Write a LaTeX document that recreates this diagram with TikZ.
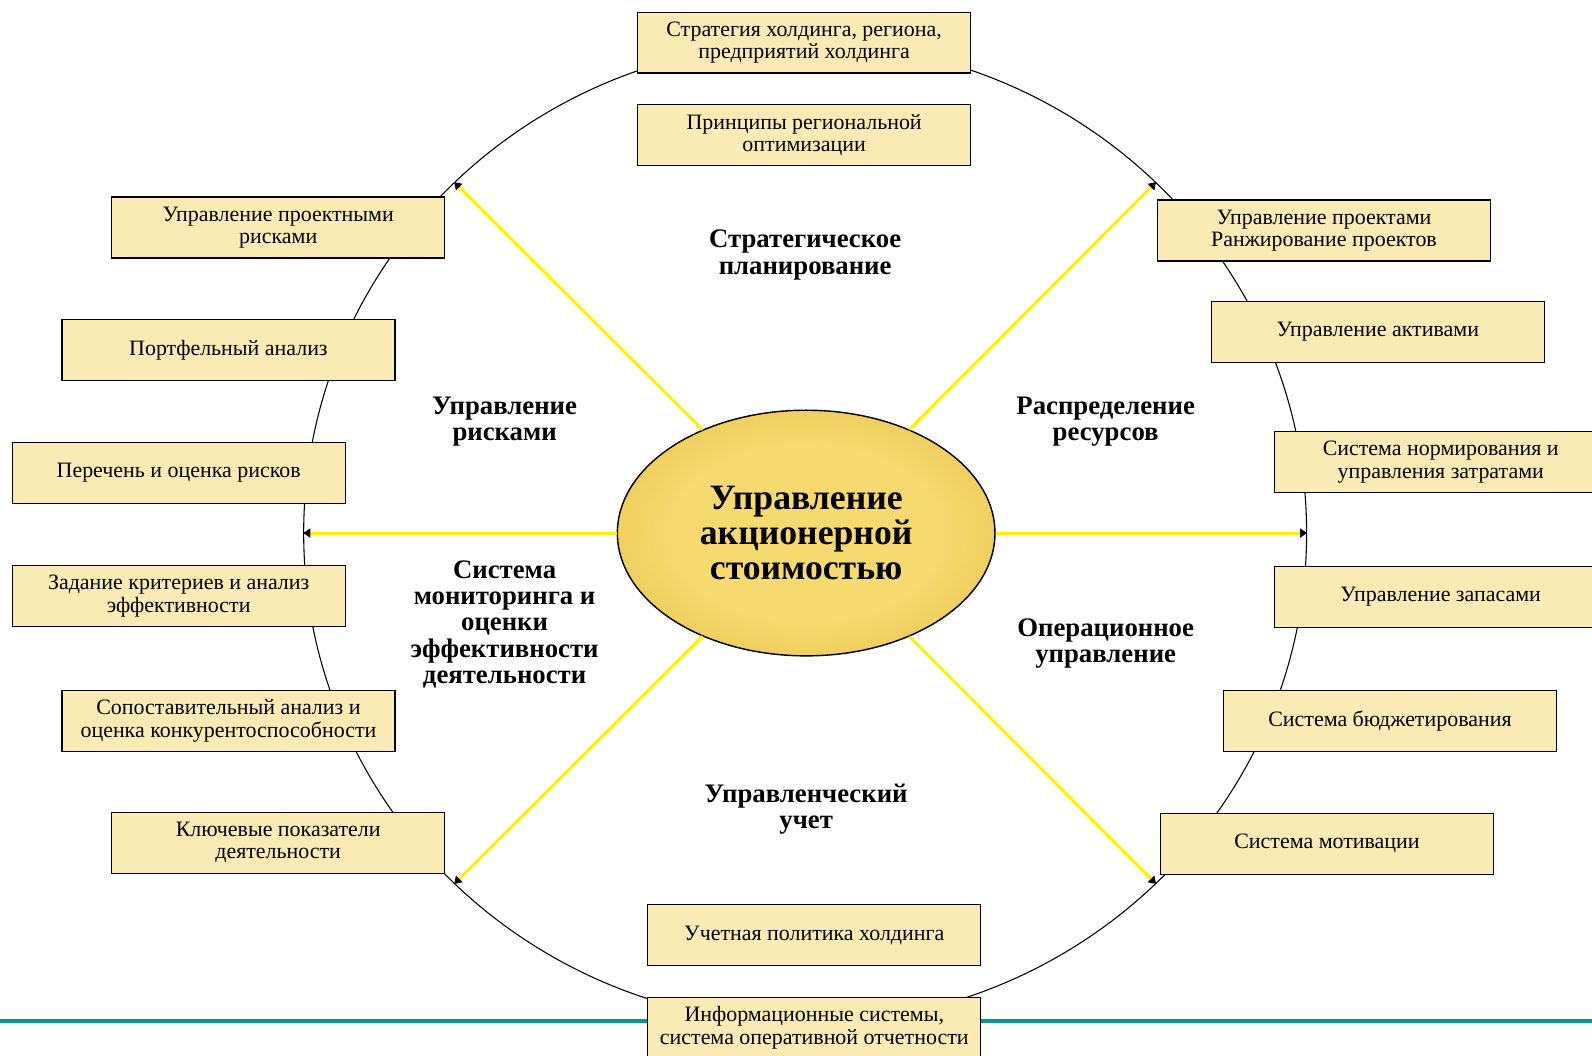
\documentclass[tikz,border=0pt]{standalone}
\usepackage{fontspec}
\setmainfont{Liberation Serif}
\usepackage{xcolor}
\usetikzlibrary{arrows.meta,positioning,shapes.geometric}

\definecolor{boxfill}{RGB}{250,235,180}
\definecolor{goldin}{RGB}{246,218,112}
\definecolor{goldout}{RGB}{212,166,30}
\definecolor{lineteal}{RGB}{0,150,150}
\pgfdeclareradialshading{goldball}{\pgfpoint{0bp}{0bp}}{color(0bp)=(goldin); color(18bp)=(goldin); color(50bp)=(goldout)}

\begin{document}
\begin{tikzpicture}[
		x=0.02cm, y=0.02cm,
		every node/.style={align=center},
		box/.style={
			draw,
			fill=boxfill,
			line width=0.7pt,
			minimum width=6.56cm,
			minimum height=1.2cm,
			inner sep=2pt,
			font=\fontsize{12.3}{12.5}\selectfont
		},
		lbl/.style={font=\fontsize{15}{14.8}\selectfont\bfseries},
		ray/.style={draw=yellow, line width=1.7pt,
			-{Triangle[length=4pt,width=5pt,color=black]}}
		]
		
		\useasboundingbox (0,0) rectangle (1568,-1040);
		
		\node[ellipse, draw, line width=0.6pt, inner sep=0,
		minimum width=19.76cm, minimum height=19.32cm] (ring) at (793,-525) {};
		
		\coordinate (tl) at (0,-1006);
		\coordinate (tr) at (1568,-1006);
		\draw[lineteal, line width=2.3pt] (tl) -- (tr);
		
		\node[ellipse, draw, line width=0.8pt, shading=goldball, inner sep=0,
		minimum width=7.44cm, minimum height=4.84cm,
		font=\fontsize{20}{19.5}\selectfont\bfseries] (core) at (794,-525)
		{Управление\\акционерной\\стоимостью};
		
		\foreach \a in {0,45,135,180,225,315}
		\draw[ray] (core) -- (ring.\a);
		
		% top
		\node[box] (s1) at (792,-42)
		{Стратегия холдинга, региона,\\предприятий холдинга};
		\node[box,below=0.6cm of s1] (s2)
		{Принципы региональной\\оптимизации};
		
		% left
		\node[box] (r1) at (274,-224)
		{Управление проектными\\рисками};
		\node[box] (r2) at (225,-345)
		{Портфельный анализ};
		\node[box] (r3) at (176,-466)
		{Перечень и оценка рисков};
		\node[box] (r4) at (176,-587)
		{Задание критериев и анализ\\эффективности};
		\node[box] (r5) at (225,-710)
		{Сопоставительный анализ и\\оценка конкурентоспособности};
		\node[box] (r6) at (274,-830)
		{Ключевые показатели\\деятельности};
		
		% right
		\node[box] (o1) at (1304,-227)
		{Управление проектами\\Ранжирование проектов};
		\node[box] (o2) at (1357,-327)
		{Управление активами};
		\node[box] (o3) at (1419,-455)
		{Система нормирования и\\управления затратами};
		\node[box] (o4) at (1419,-588)
		{Управление запасами};
		\node[box] (o5) at (1369,-710)
		{Система бюджетирования};
		\node[box] (o6) at (1307,-831)
		{Система мотивации};
		
		% bottom
		\node[box] (u1) at (802,-921)
		{Учетная политика холдинга};
		\node[box,below=0.6cm of u1] (u2)
		{Информационные системы,\\система оперативной отчетности};
		
		% sectors
		\node[lbl] (ls) at (793,-251) {Стратегическое\\планирование};
		\node[lbl] (lr) at (497,-415) {Управление\\рисками};
		\node[lbl] (lp) at (1089,-415) {Распределение\\ресурсов};
		\node[lbl] (lm) at (497,-615)
		{Система\\мониторинга и\\оценки\\эффективности\\деятельности};
		\node[lbl] (lo) at (1089,-634) {Операционное\\управление};
		\node[lbl] (lu) at (794,-797) {Управленческий\\учет};
		
	\end{tikzpicture}
\end{document}
